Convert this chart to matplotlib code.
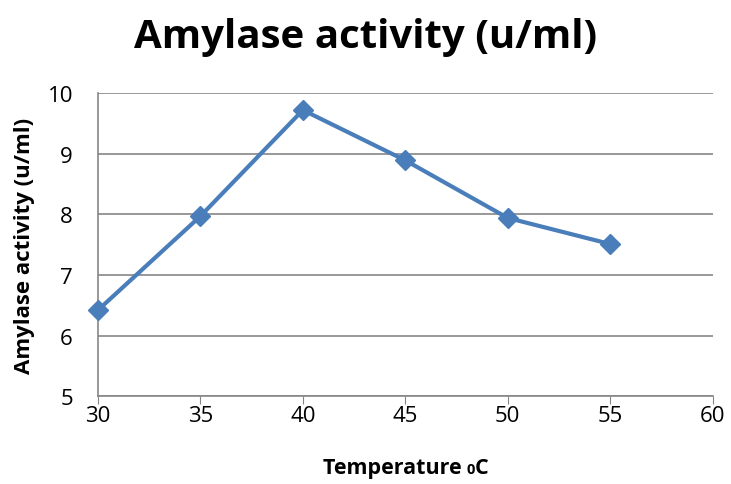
import matplotlib
matplotlib.use("Agg")
import matplotlib.pyplot as plt
from matplotlib.offsetbox import TextArea, HPacker, AnchoredOffsetbox

temperature = [30, 35, 40, 45, 50, 55]
activity = [6.42, 7.97, 9.72, 8.89, 7.94, 7.51]
x_ticks = [30, 35, 40, 45, 50, 55, 60]
y_ticks = [5, 6, 7, 8, 9, 10]

plt.rcParams['font.family'] = ['Open Sans', 'DejaVu Sans']

fig = plt.figure(figsize=(7.31, 4.85), dpi=100)
ax = fig.add_axes([0.134, 0.181, 0.841, 0.625])

ax.plot(temperature, activity, color='#4A7EBB', linewidth=3.0, marker='D',
        markersize=10, markerfacecolor='#4A7EBB', markeredgecolor='#4A7EBB', clip_on=False, zorder=3)

ax.set_xlim(30, 60)
ax.set_ylim(5, 10)
ax.set_xticks(x_ticks)
ax.set_yticks(y_ticks)
ax.grid(axis='y', color='#868686', linewidth=1.2)
ax.set_axisbelow(True)
for s in ['top', 'right']:
    ax.spines[s].set_visible(False)
for s in ['left', 'bottom']:
    ax.spines[s].set_color('#868686')
    ax.spines[s].set_linewidth(1.2)
ax.tick_params(axis='x', direction='out', length=6, color='#868686', labelsize=16, pad=0)
ax.tick_params(axis='y', length=0, labelsize=16, pad=18)

ax.set_ylabel('Amylase activity (u/ml)', fontsize=16, fontweight='bold', labelpad=9)

# x label with small "0" on baseline
t1 = TextArea('Temperature ', textprops=dict(fontsize=15.5, fontweight='bold'))
t2 = TextArea('0', textprops=dict(fontsize=10.5, fontweight='bold'))
t3 = TextArea('C', textprops=dict(fontsize=15.5, fontweight='bold'))
box = HPacker(children=[t1, t2, t3], align='baseline', pad=0, sep=0)
ab = AnchoredOffsetbox(loc='center', child=box, frameon=False,
                       bbox_to_anchor=(0.555, 0.035), bbox_transform=fig.transFigure, pad=0, borderpad=0)
fig.add_artist(ab)

fig.text(0.50, 0.922, 'Amylase activity (u/ml)', fontsize=29, fontweight='bold', ha='center', va='center')

fig.savefig('out.png', dpi=100)
